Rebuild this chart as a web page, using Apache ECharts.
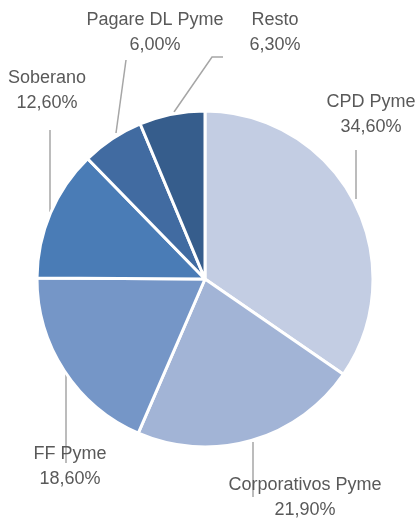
<!DOCTYPE html>
<html>
<head>
<meta charset="utf-8">
<script src="https://cdn.jsdelivr.net/npm/echarts@6/dist/echarts.min.js"></script>
<style>
html,body{margin:0;padding:0;background:#fff;}
#c{width:420px;height:520px;}
</style>
</head>
<body>
<div id="c"></div>
<script>
var categories = ['CPD Pyme', 'Corporativos Pyme', 'FF Pyme', 'Soberano', 'Pagare DL Pyme', 'Resto'];
var values = [34.6, 21.9, 18.6, 12.6, 6.0, 6.3];
var colors = ['#c3cde3', '#a2b4d6', '#7596c7', '#4a7cb6', '#416ba1', '#365d8c'];

// label block centers and leader line points (layout only)
var labelPos = [[371, 115], [305, 498], [70, 467], [47, 91], [155, 33], [275, 33]];
var linePts = [
  [[356, 199], [356, 150]],
  [[253, 442], [253, 497]],
  [[66, 373], [66, 463]],
  [[50, 212], [50, 130]],
  [[116, 133], [126, 60]],
  [[174, 112], [212, 57], [223, 57]]
];

var chart = echarts.init(document.getElementById('c'), null, {renderer: 'canvas'});
chart.setOption({
  animation: false,
  backgroundColor: '#ffffff',
  series: [{
    type: 'pie',
    center: [205, 279],
    radius: [0, 168],
    startAngle: 90,
    clockwise: true,
    avoidLabelOverlap: false,
    data: categories.map(function (n, i) {
      return {name: n, value: values[i], itemStyle: {color: colors[i]}};
    }),
    itemStyle: {borderColor: '#ffffff', borderWidth: 3},
    label: {
      show: true,
      position: 'outside',
      formatter: function (p) {
        return p.name + '\n' + p.value.toFixed(2).replace('.', ',') + '%';
      },
      fontFamily: 'Liberation Sans',
      fontSize: 18,
      lineHeight: 25,
      color: '#595959',
      align: 'center'
    },
    labelLine: {show: true, lineStyle: {color: '#a6a6a6', width: 1.5}},
    labelLayout: function (params) {
      var i = params.dataIndex;
      return {
        x: labelPos[i][0],
        y: labelPos[i][1],
        align: 'center',
        verticalAlign: 'middle',
        labelLinePoints: linePts[i]
      };
    },
    emphasis: {disabled: true}
  }]
});
</script>
</body>
</html>
